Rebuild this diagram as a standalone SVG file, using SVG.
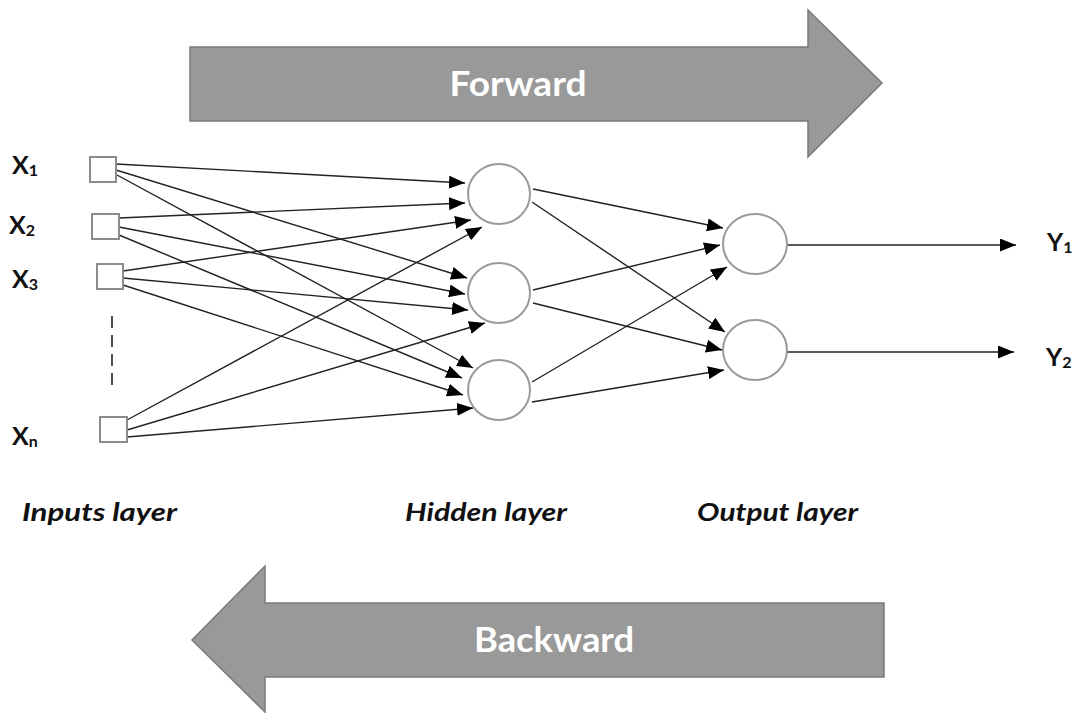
<svg xmlns="http://www.w3.org/2000/svg" width="1078" height="713" viewBox="0 0 1078 713">
  <style>
    .band { fill: #999999; stroke: #7a7a7a; stroke-width: 1.5; }
    .band-label { font-family: Lato, "Open Sans", sans-serif; font-weight: bold; font-size: 34px; fill: #ffffff; }
    .in { fill: #ffffff; stroke: #8c8c8c; stroke-width: 2; }
    .neuron { fill: #ffffff; stroke: #9a9a9a; stroke-width: 2; }
    .link { stroke: #222222; stroke-width: 1.4; fill: none; marker-end: url(#head); }
    .var { font-family: Lato, "Open Sans", sans-serif; font-weight: bold; font-size: 25px; fill: #111111; }
    .sub { font-size: 16px; }
    .layer { font-family: Lato, "Open Sans", sans-serif; font-weight: bold; font-style: italic; font-size: 24px; fill: #111111; }
  </style>
  <defs>
    <marker id="head" markerUnits="userSpaceOnUse" markerWidth="17" markerHeight="13" refX="16" refY="6.5" orient="auto">
      <path d="M0,0 L16,6.5 L0,13 z" fill="#000000"/>
    </marker>
  </defs>

  <rect width="1078" height="713" fill="#ffffff"/>

  <!-- direction bands -->
  <g id="forward">
    <path class="band" d="M190,47 L808,47 L808,10 L882,83 L808,157 L808,121 L190,121 z"/>
    <text class="band-label" x="518" y="96" text-anchor="middle" textLength="137" lengthAdjust="spacingAndGlyphs">Forward</text>
  </g>
  <g id="backward">
    <path class="band" d="M884,603 L265,603 L265,566 L192,640 L265,712 L265,677 L884,677 z"/>
    <text class="band-label" x="554" y="652" text-anchor="middle" textLength="160" lengthAdjust="spacingAndGlyphs">Backward</text>
  </g>

  <!-- connectors -->
  <g id="connectors">
    <!-- inputs to hidden -->
    <line class="link" x1="116" y1="164" x2="465" y2="183"/>
    <line class="link" x1="116" y1="170" x2="467" y2="278"/>
    <line class="link" x1="117" y1="175" x2="473" y2="368"/>
    <line class="link" x1="119" y1="218" x2="465" y2="203"/>
    <line class="link" x1="119" y1="227" x2="465" y2="294"/>
    <line class="link" x1="119" y1="235" x2="462" y2="378"/>
    <line class="link" x1="123" y1="271" x2="471" y2="220"/>
    <line class="link" x1="123" y1="278" x2="468" y2="310"/>
    <line class="link" x1="123" y1="285" x2="463" y2="395"/>
    <line class="link" x1="127" y1="420" x2="482" y2="227"/>
    <line class="link" x1="127" y1="430" x2="485" y2="323"/>
    <line class="link" x1="127" y1="437" x2="473" y2="408"/>
    <!-- hidden to output -->
    <line class="link" x1="533" y1="189" x2="723" y2="228"/>
    <line class="link" x1="532" y1="202" x2="725" y2="332"/>
    <line class="link" x1="533" y1="290" x2="720" y2="245"/>
    <line class="link" x1="533" y1="303" x2="722" y2="350"/>
    <line class="link" x1="532" y1="382" x2="727" y2="267"/>
    <line class="link" x1="532" y1="402" x2="724" y2="370"/>
    <!-- outputs -->
    <line class="link" x1="787" y1="245" x2="1016" y2="245"/>
    <line class="link" x1="787" y1="352" x2="1014" y2="352"/>
    <!-- elided inputs -->
    <line x1="112" y1="316" x2="112" y2="388" stroke="#222222" stroke-width="1.6" stroke-dasharray="12 7"/>
  </g>

  <!-- input layer -->
  <g id="x1"><rect class="in" x="90" y="157" width="26" height="25"/>
    <text class="var" x="12" y="174">X<tspan class="sub" dy="2">1</tspan></text></g>
  <g id="x2"><rect class="in" x="92" y="214" width="27" height="25"/>
    <text class="var" x="9" y="234">X<tspan class="sub" dy="2">2</tspan></text></g>
  <g id="x3"><rect class="in" x="97" y="264" width="26" height="25"/>
    <text class="var" x="12" y="288">X<tspan class="sub" dy="2">3</tspan></text></g>
  <g id="xn"><rect class="in" x="100" y="417" width="27" height="25"/>
    <text class="var" x="12" y="445">X<tspan class="sub" dy="2">n</tspan></text></g>

  <!-- hidden layer -->
  <g id="h1"><ellipse class="neuron" cx="499" cy="194" rx="31" ry="30"/></g>
  <g id="h2"><ellipse class="neuron" cx="499" cy="293" rx="31" ry="30"/></g>
  <g id="h3"><ellipse class="neuron" cx="499" cy="390" rx="31" ry="30"/></g>

  <!-- output layer -->
  <g id="o1"><ellipse class="neuron" cx="755" cy="244" rx="32" ry="30"/></g>
  <g id="o2"><ellipse class="neuron" cx="755" cy="350" rx="32" ry="30"/></g>

  <g id="y1"><text class="var" x="1047" y="251">Y<tspan class="sub" dy="2">1</tspan></text></g>
  <g id="y2"><text class="var" x="1046" y="366">Y<tspan class="sub" dy="2">2</tspan></text></g>

  <!-- layer captions -->
  <text class="layer" x="22" y="521" textLength="155" lengthAdjust="spacingAndGlyphs">Inputs layer</text>
  <text class="layer" x="405" y="521" textLength="162" lengthAdjust="spacingAndGlyphs">Hidden layer</text>
  <text class="layer" x="697" y="521" textLength="161" lengthAdjust="spacingAndGlyphs">Output layer</text>
</svg>
